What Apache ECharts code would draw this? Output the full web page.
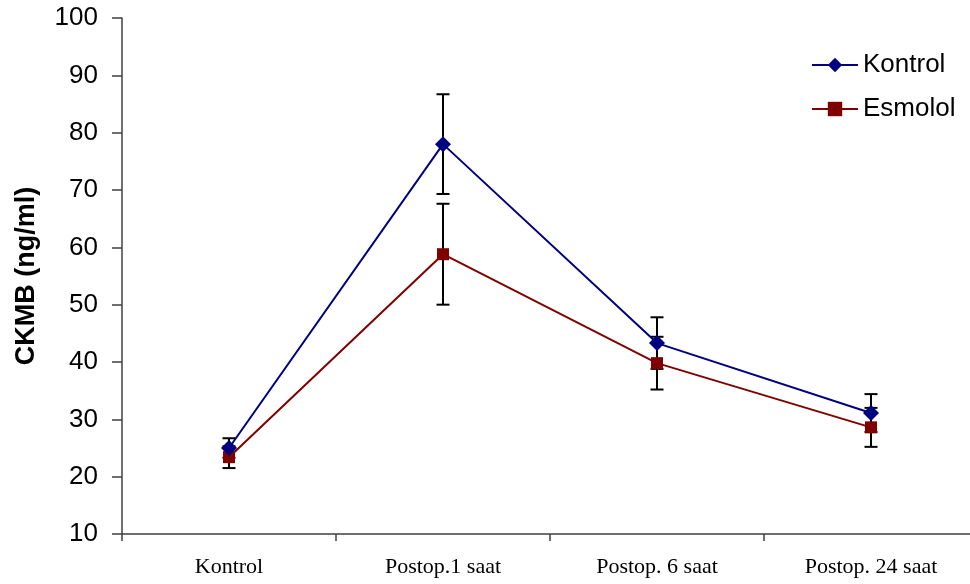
<!DOCTYPE html>
<html>
<head>
<meta charset="utf-8">
<script src="https://cdn.jsdelivr.net/npm/echarts@6/dist/echarts.min.js"></script>
<style>
html,body{margin:0;padding:0;background:#fff;}
#chart{width:970px;height:584px;}
</style>
</head>
<body>
<div id="chart"></div>
<script>
var categories = ['Kontrol', 'Postop.1 saat', 'Postop. 6 saat', 'Postop. 24 saat'];
var kontrolMean = [25.0, 78.0, 43.3, 31.1];
var kontrolErr = [1.7, 8.7, 4.5, 3.3];
var esmololMean = [23.4, 58.8, 39.8, 28.6];
var esmololErr = [1.9, 8.8, 4.6, 3.4];
var yTicks = [10, 100, 10]; // min, max, interval

function errData(mean, err) {
  return mean.map(function (m, i) { return [i, m - err[i], m + err[i]]; });
}

function renderErr(params, api) {
  var x = api.value(0);
  var lo = api.coord([x, api.value(1)]);
  var hi = api.coord([x, api.value(2)]);
  var hw = 6.5;
  var style = { stroke: '#000', lineWidth: 2, fill: null };
  return {
    type: 'group',
    children: [
      { type: 'line', shape: { x1: lo[0], y1: lo[1], x2: hi[0], y2: hi[1] }, style: style },
      { type: 'line', shape: { x1: lo[0] - hw, y1: lo[1], x2: lo[0] + hw, y2: lo[1] }, style: style },
      { type: 'line', shape: { x1: hi[0] - hw, y1: hi[1], x2: hi[0] + hw, y2: hi[1] }, style: style }
    ]
  };
}

var chart = echarts.init(document.getElementById('chart'), null, { renderer: 'canvas' });
chart.setOption({
  backgroundColor: '#fff',
  animation: false,
  grid: { left: 122, top: 18, bottom: 50, right: -8, containLabel: false, outerBoundsMode: 'none' },
  legend: {
    orient: 'vertical',
    left: 811,
    top: 52,
    padding: 0,
    itemWidth: 46,
    itemHeight: 18,
    itemGap: 18,
    textStyle: { fontFamily: 'Liberation Sans, Arial', fontSize: 26, color: '#000', padding: [0, 0, 0, 0] },
    data: ['Kontrol', 'Esmolol']
  },
  xAxis: {
    type: 'category',
    data: categories,
    boundaryGap: true,
    axisLine: { lineStyle: { color: '#404040', width: 1.5 } },
    axisTick: { show: true, length: 7, lineStyle: { color: '#404040', width: 1.5 } },
    axisLabel: { fontFamily: 'Liberation Serif, Times New Roman', fontSize: 22, color: '#000', margin: 22 },
    splitLine: { show: false }
  },
  yAxis: {
    type: 'value',
    min: yTicks[0],
    max: yTicks[1],
    interval: yTicks[2],
    name: 'CKMB (ng/ml)',
    nameLocation: 'middle',
    nameRotate: 90,
    nameGap: 82,
    nameTextStyle: { fontFamily: 'Liberation Sans, Arial', fontSize: 27, fontWeight: 'bold', color: '#000' },
    axisLine: { show: true, lineStyle: { color: '#404040', width: 1.5 } },
    axisTick: { show: true, inside: false, length: 10, lineStyle: { color: '#404040', width: 1.5 } },
    axisLabel: { fontFamily: 'Liberation Sans, Arial', fontSize: 26, color: '#000', margin: 24 },
    splitLine: { show: false }
  },
  series: [
    {
      type: 'custom',
      name: 'errK',
      renderItem: renderErr,
      data: errData(kontrolMean, kontrolErr),
      encode: { x: 0, y: [1, 2] },
      z: 1,
      silent: true
    },
    {
      type: 'custom',
      name: 'errE',
      renderItem: renderErr,
      data: errData(esmololMean, esmololErr),
      encode: { x: 0, y: [1, 2] },
      z: 1,
      silent: true
    },
    {
      name: 'Kontrol',
      type: 'line',
      data: kontrolMean,
      symbol: 'diamond',
      symbolSize: 16,
      itemStyle: { color: '#000080' },
      lineStyle: { color: '#000080', width: 2 },
      z: 3
    },
    {
      name: 'Esmolol',
      type: 'line',
      data: esmololMean,
      symbol: 'rect',
      symbolSize: 12,
      itemStyle: { color: '#800000' },
      lineStyle: { color: '#800000', width: 2 },
      z: 2
    }
  ]
});
</script>
</body>
</html>
